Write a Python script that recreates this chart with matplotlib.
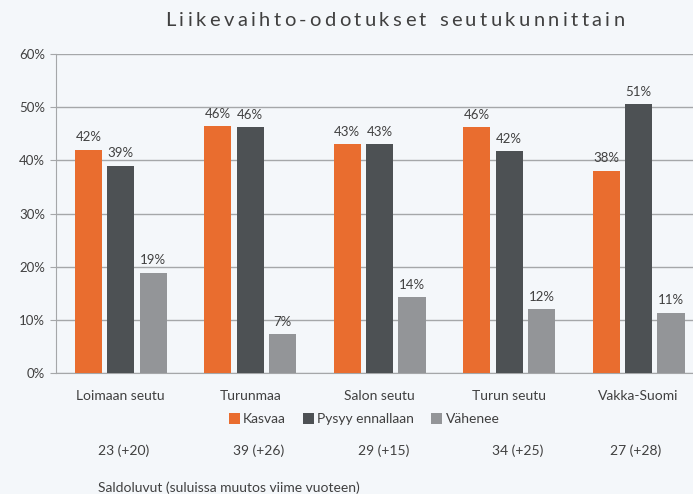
import matplotlib
matplotlib.use("Agg")
import matplotlib.pyplot as plt
import numpy as np

# Data
regions = ["Loimaan seutu", "Turunmaa", "Salon seutu", "Turun seutu", "Vakka-Suomi"]
series = ["Kasvaa", "Pysyy ennallaan", "Vähenee"]
kasvaa = [42.0, 46.4, 43.0, 46.3, 38.1]
pysyy = [39.0, 46.3, 43.0, 41.7, 50.6]
vahenee = [18.9, 7.3, 14.3, 12.0, 11.4]
saldo = ["23 (+20)", "39 (+26)", "29 (+15)", "34 (+25)", "27 (+28)"]
title = "Liikevaihto-odotukset seutukunnittain"
footnote = "Saldoluvut (suluissa muutos viime vuoteen)"

colors = ["#E96D2F", "#4D5154", "#939598"]
bg = "#F4F7FA"
grid_c = "#A5A7A9"
text_c = "#404040"

plt.rcParams["font.family"] = ["Lato", "DejaVu Sans"]

W, H = 693, 494
fig = plt.figure(figsize=(W / 100, H / 100), dpi=100, facecolor=bg)
ax = fig.add_axes([56 / W, (H - 373.3) / H, 1 - 56 / W, (373.3 - 54) / H])
ax.set_facecolor(bg)

x = np.arange(len(regions))
width = 0.21
step = 0.25
for i, (vals, name) in enumerate(zip([kasvaa, pysyy, vahenee], series)):
    pos = x + (i - 1) * step
    ax.bar(pos, vals, width, color=colors[i], label=name, zorder=3)
    for p, v in zip(pos, vals):
        ax.text(p, v + 1.2, f"{int(np.floor(v + 0.5))}%", ha="center", va="bottom",
                fontsize=9.5, color=text_c, zorder=4)

ax.set_xlim(-0.5, 4.42)
ax.set_ylim(0, 60)
ax.set_yticks(range(0, 61, 10))
ax.set_yticklabels([f"{t}%" for t in range(0, 61, 10)], fontsize=9.5, color=text_c)
ax.set_xticks(x)
ax.set_xticklabels(regions, fontsize=10, color=text_c)
ax.tick_params(axis="x", length=0, pad=12)
ax.tick_params(axis="y", length=4, color=grid_c, pad=4)
ax.yaxis.grid(True, color=grid_c, linewidth=1, zorder=0)
for s in ["top", "right"]:
    ax.spines[s].set_visible(False)
ax.spines["left"].set_color(grid_c)
ax.spines["bottom"].set_color(grid_c)

leg = fig.legend(loc="center", bbox_to_anchor=(364 / W, 1 - 419 / H), ncol=3,
                 frameon=False, fontsize=10, handlelength=0.8, handleheight=0.8,
                 handletextpad=0.25, columnspacing=1.2)
for t in leg.get_texts():
    t.set_color(text_c)

saldo_px = [124, 259, 384, 518, 636]
for px, s in zip(saldo_px, saldo):
    fig.text(px / W, 1 - 451 / H, s, ha="center", va="center", fontsize=10, color=text_c)
fig.text(98 / W, 1 - 488 / H, footnote, ha="left", va="center", fontsize=10, color=text_c)

# title with wide letter spacing
renderer = fig.canvas.get_renderer()
tracking = 3.4
widths = []
for ch in title:
    t = fig.text(0, 0, ch if ch != " " else "n", fontsize=14.5)
    widths.append(t.get_window_extent(renderer).width * (0.55 if ch == " " else 1) + tracking)
    t.remove()
total = sum(widths) - tracking
xc = 395 - total / 2
for ch, w in zip(title, widths):
    fig.text(xc / W, 1 - 20 / H, ch, fontsize=14.5, color=text_c,
             ha="left", va="center")
    xc += w

fig.savefig("out.png", dpi=100, facecolor=bg)
